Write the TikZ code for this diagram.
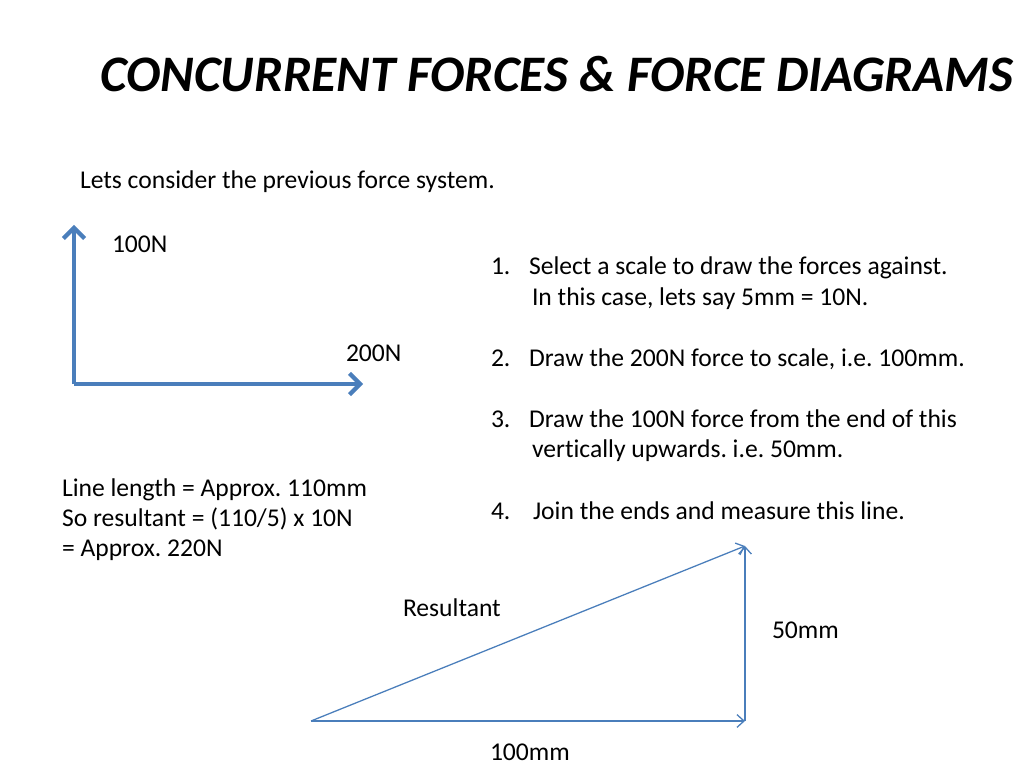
\documentclass[tikz,border=0pt]{standalone}
\usepackage{fontspec}
\setmainfont{Carlito}[Ligatures={NoCommon}]
\usetikzlibrary{arrows.meta}
\frenchspacing
\definecolor{fblue}{HTML}{4A7EBB}
\tikzset{
  txt/.style={anchor=base west, inner sep=0pt, outer sep=0pt, font=\fontsize{18}{21}\selectfont, text=black},
  bigarrow/.style={draw=fblue, line width=2.9pt, -{Straight Barb[length=7.5pt, width=15pt, line width=2.9pt]}},
  thinarrow/.style={draw=fblue, line width=0.9pt, -{Straight Barb[length=5pt, width=9pt, line width=0.9pt]}},
}
\begin{document}
\begin{tikzpicture}[x=0.703125pt, y=-0.703125pt]
\useasboundingbox (0,0) rectangle (1024,768);
% title
\node[anchor=base west, inner sep=0pt, font=\fontsize{36}{43}\selectfont\bfseries\itshape] (title) at (100,92) {CONCURRENT FORCES \& FORCE DIAGRAMS};
\node[txt] (intro) at (80,189) {Lets consider the previous force system.};
% force system
\coordinate (O) at (74,384);
\coordinate (U) at (74,225);
\coordinate (R) at (363,384);
\draw[bigarrow] (O) -- (U);
\draw[bigarrow] (O) -- (R);
\node[txt] (l100) at (112,253) {100N};
\node[txt] (l200) at (346,361) {200N};
% steps
\node[txt] (n1) at (491,275) {1.};
\node[txt] (s1) at (529,275) {Select a scale to draw the forces against.};
\node[txt] (s1b) at (532,305) {In this case, lets say 5mm = 10N.};
\node[txt] (n2) at (491,366) {2.};
\node[txt] (s2) at (529,366) {Draw the 200N force to scale, i.e. 100mm.};
\node[txt] (n3) at (491,427) {3.};
\node[txt] (s3) at (529,427) {Draw the 100N force from the end of this};
\node[txt] (s3b) at (532,457) {vertically upwards. i.e. 50mm.};
\node[txt] (n4) at (491,519) {4.};
\node[txt] (s4) at (533,519) {Join the ends and measure this line.};
% calculation
\node[txt] (c1) at (62,496) {Line length = Approx. 110mm};
\node[txt] (c2) at (62,526) {So resultant = (110/5) x 10N};
\node[txt] (c3) at (62,556) {= Approx. 220N};
% triangle
\coordinate (A) at (311,721);
\coordinate (B) at (745,721);
\coordinate (C) at (745,546);
\draw[thinarrow] (A) -- (B);
\draw[thinarrow] (B) -- (C);
\draw[thinarrow] (A) -- (C);
\node[txt] (res) at (403,616) {Resultant};
\node[txt] (l50) at (772,638) {50mm};
\node[txt] (l100mm) at (490,760) {100mm};
\end{tikzpicture}
\end{document}
